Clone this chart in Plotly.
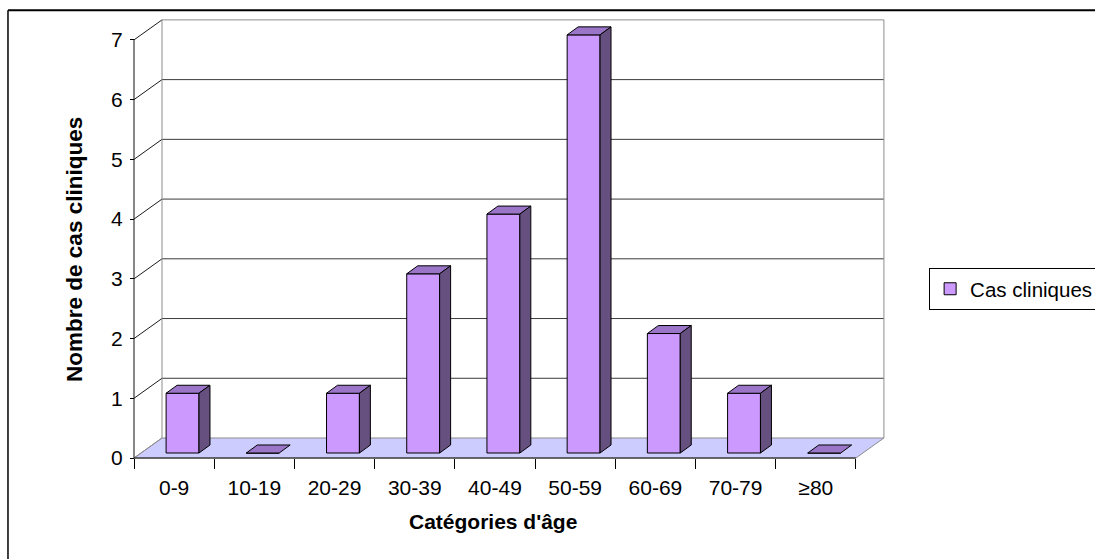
import plotly.graph_objects as go

# Age categories and number of clinical cases
categories = ["0-9", "10-19", "20-29", "30-39", "40-49", "50-59", "60-69", "70-79", "≥80"]
cases = [1, 0, 1, 3, 4, 7, 2, 1, 0]
y_ticks = [0, 1, 2, 3, 4, 5, 6, 7]

FONT = "Liberation Sans, Arial, sans-serif"
FRONT = "#CC99FF"
TOP = "#9A75C8"
SIDE = "#65507F"
FLOOR = "#CCCCFF"
WALL_EDGE = "#8C8C8C"

# pseudo-3D geometry (axis units)
DEPTH_X, DEPTH_Y = 0.349, 0.335       # wall / floor depth
BAR_OFF, BAR_W = -0.10, 0.41           # front face position within a category
FACE_DY = 0.084                        # front face lift above the floor front edge
BAR_DX, BAR_DY = 0.137, 0.134          # bar depth

n = len(categories)
x_lo, x_hi = -0.55, 8.9
y_lo, y_hi = -0.05, 7.4

W, H = 1095, 559
ml, mt = 130, 16.2
pw = (x_hi - x_lo) * 80.2
ph = (y_hi - y_lo) * 59.7
mr = W - ml - pw
mb = H - mt - ph


def px_to_paper(px, py):
    return (px - ml) / pw, (H - mb - py) / ph


def poly(pts):
    return "M " + " L ".join(f"{x},{y}" for x, y in pts) + " Z"


shapes = []
left = -0.5
right = n - 0.5
top_val = max(y_ticks)

# floor
shapes.append(dict(type="path", layer="below", xref="x", yref="y",
                   path=poly([(left, 0), (right, 0), (right + DEPTH_X, DEPTH_Y), (left + DEPTH_X, DEPTH_Y)]),
                   fillcolor=FLOOR, line=dict(color=WALL_EDGE, width=1)))
# back wall gridlines
for k in y_ticks[1:]:
    shapes.append(dict(type="line", layer="below", xref="x", yref="y",
                       x0=left + DEPTH_X, x1=right + DEPTH_X, y0=k + DEPTH_Y, y1=k + DEPTH_Y,
                       line=dict(color="#3a3a3a" if k < top_val else WALL_EDGE, width=1)))
# side wall gridlines
for k in y_ticks:
    shapes.append(dict(type="line", layer="below", xref="x", yref="y",
                       x0=left, x1=left + DEPTH_X, y0=k, y1=k + DEPTH_Y,
                       line=dict(color="#1a1a1a" if k > 0 else WALL_EDGE, width=1)))
# wall vertical edges
for xx in (left + DEPTH_X, right + DEPTH_X):
    shapes.append(dict(type="line", layer="below", xref="x", yref="y",
                       x0=xx, x1=xx, y0=DEPTH_Y, y1=top_val + DEPTH_Y,
                       line=dict(color=WALL_EDGE, width=1)))
# front axis lines
shapes.append(dict(type="line", layer="below", xref="x", yref="y",
                   x0=left, x1=left, y0=0, y1=top_val, line=dict(color="#111", width=1)))
shapes.append(dict(type="line", layer="below", xref="x", yref="y",
                   x0=left, x1=right, y0=0, y1=0, line=dict(color="#111", width=1)))

# bar top and side faces
for i, v in enumerate(cases):
    x0 = i + BAR_OFF
    x1 = x0 + BAR_W
    yb = FACE_DY
    yt = v + FACE_DY
    shapes.append(dict(type="path", layer="above", xref="x", yref="y",
                       path=poly([(x0, yt), (x1, yt), (x1 + BAR_DX, yt + BAR_DY), (x0 + BAR_DX, yt + BAR_DY)]),
                       fillcolor=TOP, line=dict(color="black", width=1)))
    if v > 0:
        shapes.append(dict(type="path", layer="above", xref="x", yref="y",
                           path=poly([(x1, yb), (x1, yt), (x1 + BAR_DX, yt + BAR_DY), (x1 + BAR_DX, yb + BAR_DY)]),
                           fillcolor=SIDE, line=dict(color="black", width=1)))

# outer chart frame: left and top edges
fx0, fy0 = px_to_paper(8, 10.5)
fx1, fy1 = px_to_paper(1100, 565)
shapes.append(dict(type="line", xref="paper", yref="paper", x0=fx0, x1=fx1, y0=fy0, y1=fy0,
                   line=dict(color="black", width=2), layer="below"))
shapes.append(dict(type="line", xref="paper", yref="paper", x0=fx0, x1=fx0, y0=fy0, y1=fy1,
                   line=dict(color="black", width=1.5), layer="below"))

fig = go.Figure()
fig.add_trace(go.Bar(
    x=categories, y=cases, base=FACE_DY, offset=BAR_OFF, width=BAR_W,
    name="Cas cliniques",
    marker=dict(color=FRONT, line=dict(color="black", width=1)),
    showlegend=True,
))

ax_pos_y = (0 - y_lo) / (y_hi - y_lo)
ax_pos_x = (left - x_lo) / (x_hi - x_lo)

xt_x, xt_y = px_to_paper(493, 521)
yt_x, yt_y = px_to_paper(75, 249)
lg_x, lg_y = px_to_paper(929, 268)

fig.update_layout(
    width=W, height=H,
    margin=dict(l=ml, r=mr, t=mt, b=mb, autoexpand=False),
    paper_bgcolor="white", plot_bgcolor="white",
    font=dict(family=FONT, size=21, color="black"),
    shapes=shapes,
    showlegend=True,
    legend=dict(x=lg_x, y=lg_y, xanchor="left", yanchor="top",
                bordercolor="black", borderwidth=1, bgcolor="white",
                font=dict(family=FONT, size=20.5, color="black")),
    xaxis=dict(type="category", categoryorder="array", categoryarray=categories,
               range=[x_lo, x_hi], anchor="free", position=ax_pos_y,
               tickson="boundaries", ticks="outside", ticklen=10, tickcolor="black",
               ticklabelstandoff=15,
               showline=False, showgrid=False, zeroline=False,
               tickfont=dict(family=FONT, size=21, color="black")),
    yaxis=dict(range=[y_lo, y_hi], anchor="free", position=ax_pos_x,
               tickvals=y_ticks, ticks="outside", ticklen=4, tickcolor="black",
               ticklabelstandoff=3,
               showline=False, showgrid=False, zeroline=False,
               tickfont=dict(family=FONT, size=21, color="black")),
    annotations=[
        dict(text="<b>Catégories d'âge</b>", xref="paper", yref="paper", x=xt_x, y=xt_y,
             showarrow=False, xanchor="center", yanchor="middle",
             font=dict(family=FONT, size=21, color="black")),
        dict(text="<b>Nombre de cas cliniques</b>", xref="paper", yref="paper", x=yt_x, y=yt_y,
             showarrow=False, xanchor="center", yanchor="middle", textangle=-90,
             font=dict(family=FONT, size=22.5, color="black")),
    ],
)

fig.write_html("out.html")
